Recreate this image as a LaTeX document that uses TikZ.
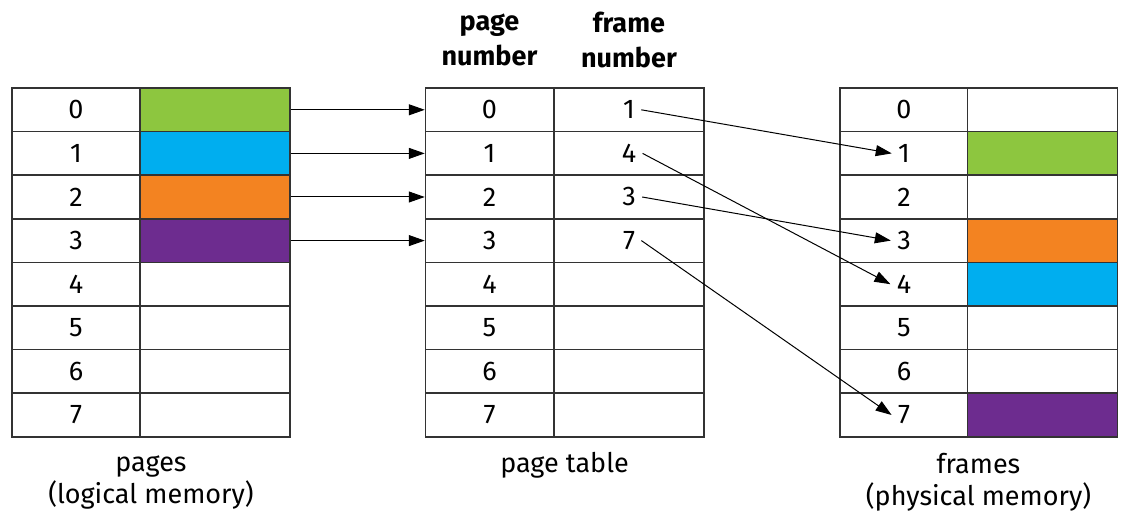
\documentclass[tikz,border=0pt]{standalone}
\usepackage{fontspec}
\setmainfont{Fira Sans}
\usetikzlibrary{arrows.meta}
\definecolor{pggreen}{HTML}{8DC63F}
\definecolor{pgblue}{HTML}{00AEEF}
\definecolor{pgorange}{HTML}{F38321}
\definecolor{pgpurple}{HTML}{6D2C8F}
\tikzset{
  cell/.style={draw=black!80,line width=0.75pt,minimum height=21.8pt,inner sep=0pt},
  idcell/.style={cell,minimum width=64pt},
  datacell/.style={cell,minimum width=75pt},
  digit/.style={inner xsep=3pt,inner ysep=1pt},
  link/.style={->,line width=0.5pt},
  caption/.style={align=center,font=\fontsize{13.5}{16}\selectfont},
  heading/.style={align=center,font=\fontsize{13.5}{17.5}\selectfont\bfseries}
}
\begin{document}
\begin{tikzpicture}[x=0.5pt,y=-0.5pt,>={Triangle[length=8pt,width=5.5pt]},font=\fontsize{13.5}{16}\selectfont]
\useasboundingbox (0,0) rectangle (1121,512);
% the three tables, row by row
\foreach \i/\pc/\fc in {0/pggreen/white,1/pgblue/pggreen,2/pgorange/white,3/pgpurple/pgorange,
                        4/white/pgblue,5/white/white,6/white/white,7/white/pgpurple}{
  \pgfmathsetmacro\y{109.8+43.6*\i}
  \node[idcell] (pg\i) at (76,\y) {\i};
  \node[datacell,fill=\pc] (pd\i) at (215,\y) {};
  \node[idcell] (pt\i) at (489.5,\y) {\i};
  \node[datacell] (ft\i) at (629,\y) {};
  \node[idcell] (fr\i) at (904,\y) {};
  \node[digit] (fn\i) at (fr\i) {\i};
  \node[datacell,fill=\fc] (fd\i) at (1042.5,\y) {};
}
% pages into the page table
\foreach \i in {0,...,3}
  \draw[link] (pd\i.east) -- (pt\i.west);
% frame numbers to frames
\foreach \i/\f in {0/1,1/4,2/3,3/7}{
  \node[digit] (fnum\i) at (ft\i) {\f};
  \draw[link] (fnum\i.east) -- (fn\f.west);
}
\node[heading] (hpage) at (489.5,40) {page\\number};
\node[heading] (hframe) at (629,40) {frame\\number};
\node[caption] (cpages) at (151,482) {pages\\(logical memory)};
\node[caption] (ctable) at (564.5,465) {page table};
\node[caption] (cframes) at (978.5,482) {frames\\(physical memory)};
\end{tikzpicture}
\end{document}
